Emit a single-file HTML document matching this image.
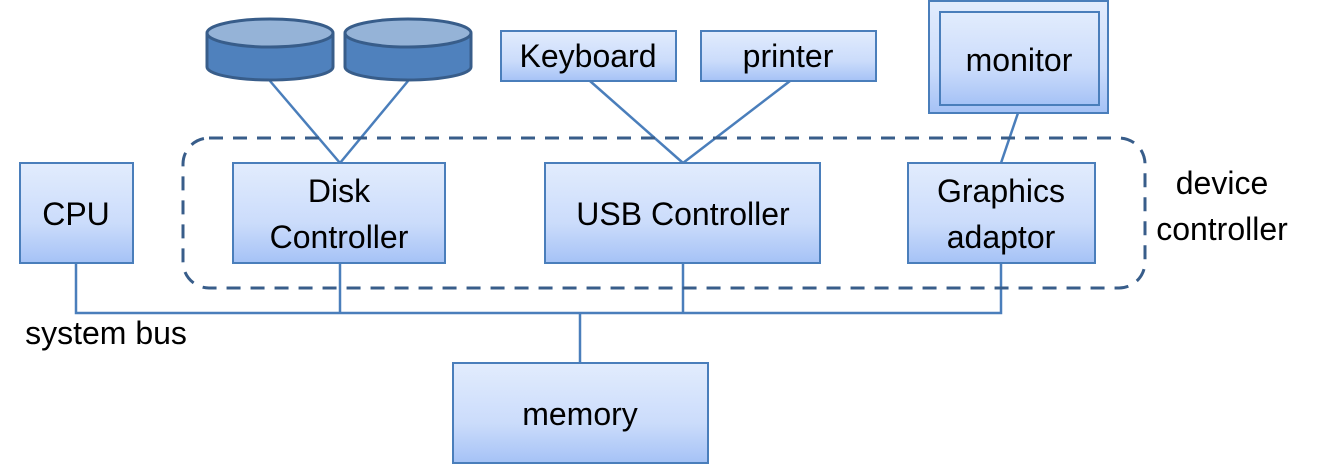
<!DOCTYPE html>
<html><head><meta charset="utf-8"><style>body{margin:0;background:#fff}svg{display:block}text{font-family:"Liberation Sans",sans-serif;font-size:32px}</style></head><body>
<svg width="1321" height="464" viewBox="0 0 1321 464" xmlns="http://www.w3.org/2000/svg">
<defs><linearGradient id="g" x1="0" y1="0" x2="0" y2="1"><stop offset="0" stop-color="#e2ecfd"/><stop offset="0.6" stop-color="#cbdcfb"/><stop offset="1" stop-color="#a5c2f6"/></linearGradient></defs>
<g stroke="#4a7ebb" stroke-width="2.5" fill="none">
<line x1="270" y1="81" x2="340" y2="163"/><line x1="408" y1="81" x2="340" y2="163"/>
<line x1="590" y1="81" x2="683" y2="163"/><line x1="790" y1="81" x2="683" y2="163"/>
<line x1="1018" y1="113" x2="1001" y2="163"/>
<polyline points="76,263 76,313 1001,313 1001,263"/>
<line x1="340" y1="263" x2="340" y2="313"/><line x1="683" y1="263" x2="683" y2="313"/><line x1="580" y1="313" x2="580" y2="363"/>
</g>
<rect x="183" y="138" width="962" height="150" rx="26" fill="none" stroke="#385d8a" stroke-width="3" stroke-dasharray="14 10"/>
<g stroke="#4a7ebb" stroke-width="2" fill="url(#g)">
<rect x="20" y="163" width="113" height="100"/>
<rect x="233" y="163" width="212" height="100"/>
<rect x="545" y="163" width="275" height="100"/>
<rect x="908" y="163" width="187" height="100"/>
<rect x="453" y="363" width="255" height="100"/>
<rect x="501" y="31" width="175" height="50"/>
<rect x="701" y="31" width="175" height="50"/>
<rect x="929" y="1" width="179" height="112"/>
<rect x="940" y="12" width="159" height="93"/>
</g>
<g stroke="#385d8a" stroke-width="3">
<path d="M207,33 V67 A63,13 0 0 0 333,67 V33" fill="#4f81bd"/>
<ellipse cx="270" cy="33" rx="63" ry="14" fill="#95b3d7"/>
<path d="M345,33 V67 A63,13 0 0 0 471,67 V33" fill="#4f81bd"/>
<ellipse cx="408" cy="33" rx="63" ry="14" fill="#95b3d7"/>
</g>
<g fill="#000" text-anchor="middle">
<text x="76" y="225">CPU</text>
<text x="339" y="202">Disk</text><text x="339" y="248">Controller</text>
<text x="683" y="225">USB Controller</text>
<text x="1001" y="202">Graphics</text><text x="1001" y="248">adaptor</text>
<text x="580" y="425">memory</text>
<text x="588" y="67">Keyboard</text>
<text x="788" y="67">printer</text>
<text x="1019" y="71">monitor</text>
<text x="1222" y="194">device</text><text x="1222" y="240">controller</text>
<text x="106" y="344">system bus</text>
</g>
</svg>
</body></html>
